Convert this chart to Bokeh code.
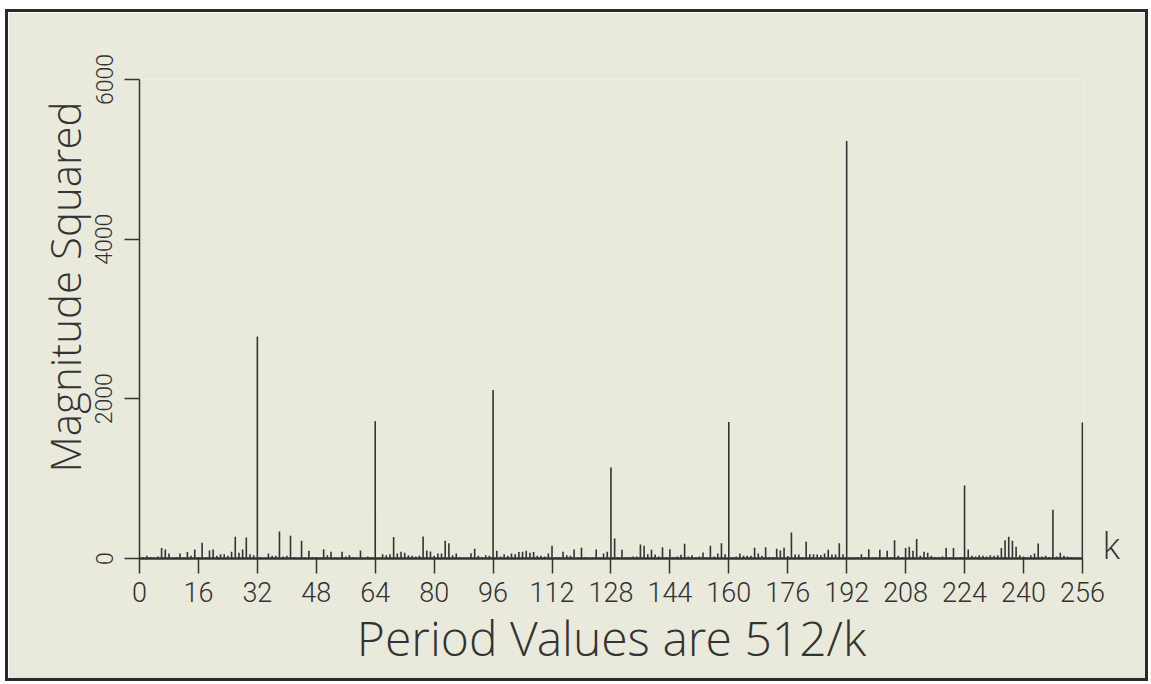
import math
from bokeh.plotting import figure
from bokeh.models import Range1d, FixedTicker, Title, LinearAxis
from bokeh.embed import file_html
from bokeh.resources import INLINE

# ---------------- data ----------------
k_values = list(range(257))
magnitude_squared = [
    0, 15, 35, 20, 10, 25, 130, 113, 63, 12,            # 0-9
    20, 63, 10, 80, 33, 113, 20, 196, 15, 100,          # 10-19
    113, 33, 54, 54, 33, 84, 272, 71, 113, 263,         # 20-29
    54, 42, 2780, 17, 10, 63, 33, 33, 339, 25,          # 30-39
    33, 284, 15, 10, 222, 12, 96, 17, 20, 10,           # 40-49
    117, 42, 84, 12, 8, 84, 25, 42, 17, 10,             # 50-59
    100, 10, 25, 17, 1720, 10, 54, 42, 54, 268,         # 60-69
    63, 84, 71, 42, 33, 25, 33, 276, 100, 88,           # 70-79
    33, 63, 63, 222, 192, 42, 63, 17, 10, 12,           # 80-89
    67, 121, 33, 17, 42, 33, 2110, 96, 25, 54,          # 90-99
    33, 63, 54, 80, 84, 96, 71, 80, 33, 33,             # 100-109
    25, 63, 159, 17, 17, 84, 42, 33, 113, 12,           # 110-119
    134, 17, 10, 12, 113, 15, 63, 84, 1140, 251,        # 120-129
    15, 109, 17, 17, 25, 25, 176, 159, 54, 109,         # 130-139
    50, 25, 142, 17, 117, 17, 25, 46, 184, 25,          # 140-149
    42, 17, 25, 75, 17, 159, 25, 63, 192, 54,           # 150-159
    1710, 17, 25, 63, 33, 33, 33, 134, 63, 33,          # 160-169
    142, 17, 20, 121, 100, 134, 30, 326, 50, 50,        # 170-179
    15, 209, 54, 54, 50, 42, 63, 109, 50, 50,           # 180-189
    192, 54, 5230, 10, 17, 15, 54, 17, 117, 12,         # 190-199
    15, 109, 12, 96, 15, 230, 33, 12, 130, 146,         # 200-209
    96, 243, 33, 84, 71, 33, 20, 17, 25, 130,           # 210-219
    17, 130, 12, 17, 915, 113, 33, 25, 42, 33,          # 220-229
    25, 42, 33, 42, 130, 230, 272, 222, 146, 42,        # 230-239
    25, 17, 42, 63, 188, 25, 33, 17, 610, 25,           # 240-249
    71, 33, 25, 17, 12, 10, 1705,                       # 250-256
]
x_tick_values = [0, 16, 32, 48, 64, 80, 96, 112, 128, 144, 160, 176, 192, 208, 224, 240, 256]
y_tick_values = [0, 2000, 4000, 6000]
x_title = "Period Values are 512/k"
y_title = "Magnitude Squared"
k_marker = "k"

# ---------------- styling ----------------
BG = "#e9eadc"
INK = "#333333"
FONT = "'Roboto Light', Roboto"
TITLE_FONT = "'DejaVu Sans ExtraLight', 'Open Sans Light', 'Roboto Light', Roboto"

p = figure(
    width=1143, height=672,
    output_backend="svg", toolbar_location=None,
    x_range=Range1d(0, 256.3), y_range=Range1d(0, 6000),
    min_border_left=131, min_border_right=68,
    min_border_top=67, min_border_bottom=126,
    background_fill_color=BG, border_fill_color=BG,
    outline_line_color=None,
)
p.styles = {"margin-left": "5px", "margin-top": "9px", "border": "3px solid #2a2a2a"}
p.xgrid.visible = False
p.ygrid.visible = False

p.segment(x0=k_values, y0=[0] * len(k_values), x1=k_values, y1=magnitude_squared,
          line_color=INK, line_width=1.6)

# x axis
xa = p.xaxis[0]
xa.bounds = (0, 256)
xa.ticker = FixedTicker(ticks=x_tick_values)
xa.major_tick_out = 15
xa.major_tick_in = 0
xa.minor_tick_out = 0
xa.minor_tick_in = 0
xa.axis_line_width = 2.5
xa.axis_line_color = INK
xa.major_tick_line_color = INK
xa.major_tick_line_width = 1.5
xa.major_label_text_font = FONT
xa.major_label_text_font_size = "27px"
xa.major_label_text_color = INK
xa.major_label_standoff = 8
xa.axis_label = x_title
xa.axis_label_text_font = TITLE_FONT
xa.axis_label_text_font_size = "48px"
xa.axis_label_text_font_style = "normal"
xa.axis_label_text_color = INK
xa.axis_label_standoff = 0

# y axis
ya = p.yaxis[0]
ya.ticker = FixedTicker(ticks=y_tick_values)
ya.major_tick_out = 15
ya.major_tick_in = 0
ya.minor_tick_out = 0
ya.minor_tick_in = 0
ya.axis_line_width = 1.5
ya.axis_line_color = INK
ya.major_tick_line_color = INK
ya.major_tick_line_width = 1.5
ya.major_label_orientation = "vertical"
ya.major_label_text_font = FONT
ya.major_label_text_font_size = "23px"
ya.major_label_text_color = INK
ya.major_label_standoff = 12

# rotated y title, shifted up along the axis like the reference
p.add_layout(Title(text=y_title, align="left", offset=86, standoff=0,
                   text_font=TITLE_FONT, text_font_size="42px",
                   text_font_style="normal", text_color=INK), "left")

# "k" marker at the right end of the baseline (a bare right axis with one label)
p.extra_y_ranges = {"kmark": Range1d(-160, 5840)}
ka = LinearAxis(y_range_name="kmark", ticker=FixedTicker(ticks=[0]),
                major_label_overrides={0: k_marker},
                axis_line_color=None, major_tick_line_color=None,
                minor_tick_line_color=None, major_tick_out=0, major_tick_in=0,
                minor_tick_out=0, minor_tick_in=0, major_label_standoff=19,
                major_label_text_font=TITLE_FONT, major_label_text_font_size="36px",
                major_label_text_color=INK)
p.add_layout(ka, "right")

open("out.html", "w").write(file_html(p, INLINE))
